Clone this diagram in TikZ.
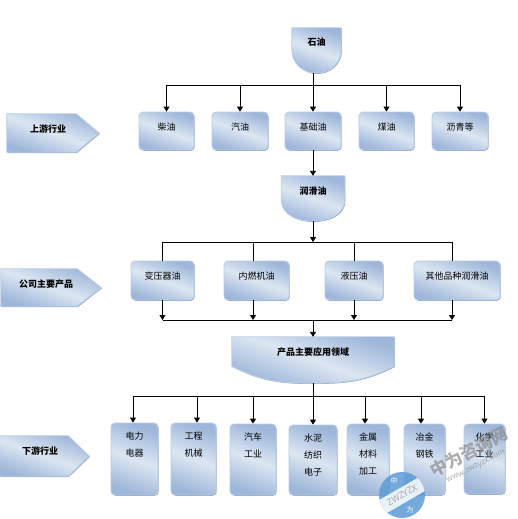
\documentclass[tikz,border=0pt]{standalone}
\usepackage{fontspec}
\setmainfont{Noto Sans CJK SC}
\usetikzlibrary{arrows.meta,positioning,calc,backgrounds,shadows}
\definecolor{blueD}{HTML}{9DB6D9}
\definecolor{blueL}{HTML}{DCE6F2}
\definecolor{edgeL}{HTML}{B9CDE6}
\definecolor{edgeD}{HTML}{8FA3C2}
\definecolor{wmblue}{HTML}{5B9BD5}
% flat top, rounded belly; #2 height of the side above the south anchor, #3/#4 tangents
\newcommand{\bowl}[4]{\begin{pgfonlayer}{background}
  \path[glossy] (#1.north west) -- (#1.north east) -- ([yshift=#2]#1.south east)
    to[out=#3,in=0] (#1.south) to[out=180,in=#4] ([yshift=#2]#1.south west) -- cycle;
\end{pgfonlayer}}
% pentagon pointing right; #2 length of the tip
\newcommand{\pointer}[2]{\begin{pgfonlayer}{background}
  \path[glossy] (#1.north west) -- ([xshift=-#2]#1.north east) -- (#1.east)
    -- ([xshift=-#2]#1.south east) -- (#1.south west) -- cycle;
\end{pgfonlayer}}

\begin{document}
\begin{tikzpicture}[
  x=1pt, y=-1pt, font=\fontsize{9}{11}\selectfont,
  glossy/.style={draw=edgeL, line width=.8pt, top color=blueD, bottom color=blueD, middle color=blueL, shading angle=-20,
    drop shadow={shadow xshift=.7pt, shadow yshift=-.8pt, fill=edgeD, opacity=1}},
  b/.style={glossy, rounded corners=4pt, inner sep=0pt, align=center, text height=18pt},
  r/.style={inner sep=0pt, align=center, font=\fontsize{9}{11}\selectfont\bfseries, text height=18pt},
  wm/.style={inner sep=0pt, text=black!45, opacity=.7},
  pf/.style={-{Triangle[length=5pt,width=6pt]}, line width=.9pt},
  l/.style={line width=.9pt}
]
\useasboundingbox (0,0) rectangle (517,519);

% side tags
\node[r, minimum width=92pt, minimum height=38pt, text depth=20pt] (up) at (53,133) {上游行业\hspace*{10pt}};
\pointer{up}{23pt}
\node[r, minimum width=100pt, minimum height=37pt, text depth=19pt] (co) at (51,287.5) {公司主要产品\hspace*{10pt}};
\pointer{co}{24pt}
\node[r, minimum width=89pt, minimum height=40pt, text depth=22pt] (down) at (44.5,456) {下游行业\hspace*{9pt}};
\pointer{down}{21pt}

% upstream
\node[r, minimum width=49pt, minimum height=45pt, text depth=27pt] (oil) at (316.5,50.5) {石油};
\bowl{oil}{23pt}{-90}{-90}
\node[b, minimum width=55pt, minimum height=38pt, text depth=20pt] (chai) at (166.5,131) {柴油};
\node[b, minimum width=56pt, minimum height=38pt, text depth=20pt] (qi) at (240,131) {汽油};
\node[b, minimum width=56pt, minimum height=38pt, text depth=20pt] (base) at (313,131) {基础油};
\node[b, minimum width=55pt, minimum height=38pt, text depth=20pt] (mei) at (386.5,131) {煤油};
\node[b, minimum width=56pt, minimum height=38pt, text depth=20pt] (liq) at (460,131) {沥青等};
\node[r, minimum width=63pt, minimum height=45pt, text depth=27pt] (lube) at (313,198.5) {润滑油};
\bowl{lube}{21pt}{-90}{-90}

% products
\node[b, minimum width=63pt, minimum height=39pt, text depth=21pt] (trans) at (162.5,280.5) {变压器油};
\node[b, minimum width=65pt, minimum height=39pt, text depth=21pt] (engine) at (256.5,280.5) {内燃机油};
\node[b, minimum width=58pt, minimum height=39pt, text depth=21pt] (hyd) at (354,280.5) {液压油};
\node[b, minimum width=86pt, minimum height=39pt, text depth=21pt] (other) at (457,280.5) {其他品种润滑油};
\node[r, minimum width=162pt, minimum height=46pt, text depth=28pt] (app) at (313,360) {产品主要应用领域};
\bowl{app}{17pt}{-153}{-27}

% downstream
\node[b, minimum width=47pt, minimum height=72pt, text height=33pt, text depth=39pt] (dl) at (134.5,459) {电力\\[6pt]电器};
\node[b, minimum width=45pt, minimum height=72pt, text height=33pt, text depth=39pt] (gc) at (193.5,459) {工程\\[6pt]机械};
\node[b, minimum width=46pt, minimum height=71pt, text height=33pt, text depth=38pt] (qc) at (253,459.5) {汽车\\[6pt]工业};
\node[b, minimum width=48pt, minimum height=70pt, text height=50pt, text depth=20pt] (sn) at (313,460) {水泥\\[6pt]纺织\\[6pt]电子};
\node[b, minimum width=42pt, minimum height=71pt, text height=50pt, text depth=21pt] (js) at (368,459.5) {金属\\[6pt]材料\\[6pt]加工};
\node[b, minimum width=41pt, minimum height=71pt, text height=33pt, text depth=38pt] (yj) at (424.5,459.5) {冶金\\[6pt]钢铁};
\node[b, minimum width=41pt, minimum height=70pt, text height=33pt, text depth=37pt] (hx) at (484.5,459) {化学\\[6pt]工业};

\coordinate (bus1) at (313,85);
\coordinate (bus2) at (313,242);
\coordinate (bus3) at (313,320);
\coordinate (bus4) at (313,396);

\draw[l] (bus1 |- oil.south) -- (bus1);
\draw[pf] (bus1) -| (chai.north);
\draw[pf] (bus1) -| (qi.north);
\draw[pf] (bus1) -- (base.north);
\draw[pf] (bus1) -| (mei.north);
\draw[pf] (bus1) -| (liq.north);
\draw[pf] (base.south) -- (lube.north);

\draw[pf] (lube.south) -- (bus2);
\draw[l] (bus2) -| (trans.north);
\draw[l] (bus2) -| ([xshift=-3.5pt]engine.north);
\draw[l] (bus2) -| (hyd.north);
\draw[l] (bus2) -| ([xshift=-5pt]other.north);

\draw[pf] (trans.south) -- (trans.south |- bus3);
\draw[pf] ([xshift=-3.5pt]engine.south) -- ([xshift=-3.5pt]engine.south |- bus3);
\draw[pf] (hyd.south) -- (hyd.south |- bus3);
\draw[pf] ([xshift=-5pt]other.south) -- ([xshift=-5pt]other.south |- bus3);
\draw[l] (trans.south |- bus3) -- ([xshift=-5pt]other.south |- bus3);
\draw[pf] (bus3) -- (app.north);

\draw[l] (app.south) -- (bus4);
\draw[pf] (bus4) -| ([xshift=-1.5pt]dl.north);
\draw[pf] (bus4) -| ([xshift=3.5pt]gc.north);
\draw[pf] (bus4) -| (qc.north);
\draw[pf] (bus4) -- (sn.north);
\draw[pf] (bus4) -| ([xshift=-3pt]js.north);
\draw[pf] (bus4) -| ([xshift=-3.5pt]yj.north);
\draw[pf] (bus4) -| (hx.north);

% watermark
\begin{scope}[opacity=.85]
  \clip (402,495) circle (23);
  \fill[wmblue] (370,460) rectangle (440,530);
  \fill[white, rotate around={30:(402,495)}] (370,488) rectangle (440,503);
\end{scope}
\node[wm, rotate=30, font=\fontsize{9}{10}\selectfont] (wmen) at (402,495) {ZWZYZX};
\node[inner sep=0pt, text=white, font=\fontsize{7}{8}\selectfont] (wmz) at (394,481) {中};
\node[inner sep=0pt, text=white, font=\fontsize{7}{8}\selectfont] (wmw) at (410,510) {为};
\node[wm, rotate=28, font=\fontsize{17}{18}\selectfont\bfseries] (wmcn) at (469,452) {中为咨询网};
\node[wm, rotate=27, font=\fontsize{8}{9}\selectfont] (wmurl) at (476,467) {www.zwzyzx.com};
\end{tikzpicture}
\end{document}
